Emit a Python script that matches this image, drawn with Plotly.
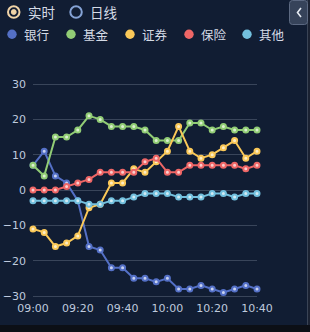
import plotly.graph_objects as go

times = ["09:00", "09:05", "09:10", "09:15", "09:20", "09:25", "09:30", "09:35", "09:40", "09:45",
         "09:50", "09:55", "10:00", "10:05", "10:10", "10:15", "10:20", "10:25", "10:30", "10:35", "10:40"]
tick_labels = ["09:00", "09:20", "09:40", "10:00", "10:20", "10:40"]
y_ticks = [-30, -20, -10, 0, 10, 20, 30]

series_names = ["银行", "基金", "证券", "保险", "其他"]
bank = [7, 11, 4, 2, -3, -16, -17, -22, -22, -25, -25, -26, -25, -28, -28, -27, -28, -29, -28, -27, -28]
fund = [7, 4, 15, 15, 17, 21, 20, 18, 18, 18, 17, 14, 14, 14, 19, 19, 17, 18, 17, 17, 17]
securities = [-11, -12, -16, -15, -13, -5, -4, 2, 2, 6, 5, 8, 11, 18, 11, 9, 10, 12, 14, 9, 11]
insurance = [0, 0, 0, 1, 2, 3, 5, 5, 5, 5, 8, 9, 5, 5, 7, 7, 7, 7, 7, 6, 7]
others = [-3, -3, -3, -3, -3, -4, -4, -3, -3, -2, -1, -1, -1, -2, -2, -2, -1, -1, -2, -1, -1]
series_values = [bank, fund, securities, insurance, others]

colors = ["#5470c6", "#91cc75", "#fac858", "#ee6666", "#73c0de"]
centers = ["#c9d3f0", "#dcefd2", "#fdeec8", "#f9cfcf", "#d3ebf4"]

W, H = 310, 332
ML, MR, MT, MB = 33, 53, 77, 36
PW, PH = W - ML - MR, H - MT - MB

def px(x):
    return (x - ML) / PW

def py(y):
    return 1 - (y - MT) / PH

BG = "#111d33"
TXT = "#d5dbe6"
AX = "#bfcade"
CJK = "Noto Sans CJK SC"

fig = go.Figure()
for name, vals, c, cc in zip(series_names, series_values, colors, centers):
    fig.add_trace(go.Scatter(
        x=times, y=vals, name=name, mode="lines+markers",
        line=dict(color=c, width=2),
        marker=dict(size=5, color=cc, line=dict(color=c, width=2)),
        cliponaxis=False, showlegend=False,
    ))

shapes = []
# outer frame strips
shapes.append(dict(type="rect", xref="paper", yref="paper", x0=px(307), x1=px(308), y0=py(0), y1=py(325),
                   fillcolor="#3a4456", line_width=0, layer="below"))
shapes.append(dict(type="rect", xref="paper", yref="paper", x0=px(308), x1=px(310), y0=py(0), y1=py(332),
                   fillcolor="#1b2232", line_width=0, layer="below"))
shapes.append(dict(type="rect", xref="paper", yref="paper", x0=px(0), x1=px(310), y0=py(325), y1=py(332),
                   fillcolor="#0c0f16", line_width=0, layer="below"))

# radio buttons
shapes.append(dict(type="circle", xref="paper", yref="paper", x0=px(8), x1=px(19.5), y0=py(6.3), y1=py(17.8),
                   line=dict(color="#f0d4a8", width=2), fillcolor="rgba(0,0,0,0)"))
shapes.append(dict(type="circle", xref="paper", yref="paper", x0=px(11.3), x1=px(16.2), y0=py(9.6), y1=py(14.5),
                   line=dict(color="#f0d4a8", width=1), fillcolor="#f0d4a8"))
shapes.append(dict(type="circle", xref="paper", yref="paper", x0=px(70.3), x1=px(81.8), y0=py(6.3), y1=py(17.8),
                   line=dict(color="#85a3d6", width=2), fillcolor="rgba(0,0,0,0)"))

# legend dots
legend_x = [12, 71, 130, 189, 247]
for lx, c in zip(legend_x, colors):
    shapes.append(dict(type="circle", xref="paper", yref="paper", x0=px(lx - 4.7), x1=px(lx + 4.7),
                       y0=py(34.3 - 4.7), y1=py(34.3 + 4.7), line_width=0, fillcolor=c))

# top-right button (rounded rect)
bx0, bx1, by0, by1, r = 289.5, 307.5, 0.5, 24.5, 3
pts = [
    ("M", bx0 + r, by0), ("L", bx1 - r, by0), ("Q", bx1, by0, bx1, by0 + r), ("L", bx1, by1 - r),
    ("Q", bx1, by1, bx1 - r, by1), ("L", bx0 + r, by1), ("Q", bx0, by1, bx0, by1 - r),
    ("L", bx0, by0 + r), ("Q", bx0, by0, bx0 + r, by0),
]
path = ""
for p in pts:
    cmd = p[0]
    coords = p[1:]
    s = []
    for i in range(0, len(coords), 2):
        s.append(f"{px(coords[i]):.5f},{py(coords[i+1]):.5f}")
    path += cmd + " ".join(s) + " "
path += "Z"
shapes.append(dict(type="path", xref="paper", yref="paper", path=path,
                   fillcolor="#36435a", line=dict(color="#5d6a82", width=1)))
# chevron
chev = f"M{px(301):.5f},{py(8):.5f} L{px(297.5):.5f},{py(12.5):.5f} L{px(301):.5f},{py(17):.5f}"
shapes.append(dict(type="path", xref="paper", yref="paper", path=chev,
                   line=dict(color="#e6ebf3", width=1.6)))

annotations = []
annotations.append(dict(text="实时", xref="paper", yref="paper", x=px(25.5), y=py(12), xanchor="left",
                        yanchor="middle", showarrow=False, font=dict(family=CJK, size=13.5, color=TXT)))
annotations.append(dict(text="日线", xref="paper", yref="paper", x=px(87.5), y=py(12), xanchor="left",
                        yanchor="middle", showarrow=False, font=dict(family=CJK, size=13.5, color=TXT)))
legend_tx = [21.5, 81, 140, 199, 257]
for tx, name in zip(legend_tx, series_names):
    annotations.append(dict(text=name, xref="paper", yref="paper", x=px(tx), y=py(34.3), xanchor="left",
                            yanchor="middle", showarrow=False, font=dict(family=CJK, size=12.5, color=TXT)))

fig.update_layout(
    width=W, height=H,
    margin=dict(l=ML, r=MR, t=MT, b=MB, autoexpand=False),
    paper_bgcolor=BG, plot_bgcolor=BG,
    shapes=shapes, annotations=annotations,
    xaxis=dict(type="category", categoryorder="array", categoryarray=times, range=[0, len(times) - 1],
               tickvals=tick_labels, ticktext=tick_labels, showgrid=False, zeroline=False,
               showline=True, linecolor="#39455a", linewidth=1, ticks="", ticklabelstandoff=2,
               tickfont=dict(family="DejaVu Sans", size=11, color=AX), automargin=False, fixedrange=True),
    yaxis=dict(range=[-30, 32], tickvals=y_ticks, showgrid=True, gridcolor="#39455a", gridwidth=1,
               zeroline=False, showline=False, ticks="", ticklabelstandoff=6,
               tickfont=dict(family="DejaVu Sans", size=11, color=AX), automargin=False, fixedrange=True),
    showlegend=False,
)

fig.write_html("out.html")
